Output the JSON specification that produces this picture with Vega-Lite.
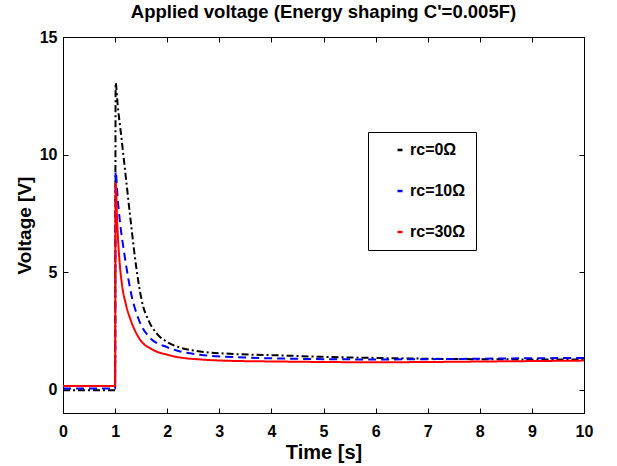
{
  "$schema": "https://vega.github.io/schema/vega-lite/v6.json",
  "width": 521,
  "height": 376,
  "autosize": {"type": "none"},
  "padding": {"left": 63, "top": 37, "right": 33, "bottom": 53},
  "background": "white",
  "title": {"text": "Applied voltage (Energy shaping C'=0.005F)", "font": "Liberation Sans", "fontSize": 18.5, "fontWeight": "bold", "color": "black", "offset": 8},
  "config": {
    "view": {"stroke": "black", "strokeWidth": 1},
    "axis": {"labelFont": "Liberation Sans", "labelFontSize": 16, "labelFontWeight": "bold", "labelColor": "black", "labelFlush": false, "titleFont": "Liberation Sans", "titleFontSize": 19, "titleFontWeight": "bold", "titleColor": "black", "domainColor": "black", "tickColor": "black", "tickSize": -5, "tickWidth": 1, "grid": false}
  },
  "data": {"values": [
    {"t": 0, "v": -0.03, "s": "rc=0Ω"},
    {"t": 1.0, "v": -0.03, "s": "rc=0Ω"},
    {"t": 1.01, "v": 13.05, "s": "rc=0Ω"},
    {"t": 1.05, "v": 12.1, "s": "rc=0Ω"},
    {"t": 1.13, "v": 10.55, "s": "rc=0Ω"},
    {"t": 1.22, "v": 8.75, "s": "rc=0Ω"},
    {"t": 1.3, "v": 7.15, "s": "rc=0Ω"},
    {"t": 1.4, "v": 5.3, "s": "rc=0Ω"},
    {"t": 1.51, "v": 3.8, "s": "rc=0Ω"},
    {"t": 1.65, "v": 2.9, "s": "rc=0Ω"},
    {"t": 1.8, "v": 2.38, "s": "rc=0Ω"},
    {"t": 2.0, "v": 2.02, "s": "rc=0Ω"},
    {"t": 2.25, "v": 1.78, "s": "rc=0Ω"},
    {"t": 2.63, "v": 1.62, "s": "rc=0Ω"},
    {"t": 3.2, "v": 1.52, "s": "rc=0Ω"},
    {"t": 4.17, "v": 1.45, "s": "rc=0Ω"},
    {"t": 5.0, "v": 1.39, "s": "rc=0Ω"},
    {"t": 6.08, "v": 1.34, "s": "rc=0Ω"},
    {"t": 7.0, "v": 1.31, "s": "rc=0Ω"},
    {"t": 8.0, "v": 1.29, "s": "rc=0Ω"},
    {"t": 9.0, "v": 1.28, "s": "rc=0Ω"},
    {"t": 10.0, "v": 1.28, "s": "rc=0Ω"},
    {"t": 0, "v": 0.04, "s": "rc=10Ω"},
    {"t": 1.0, "v": 0.04, "s": "rc=10Ω"},
    {"t": 1.01, "v": 9.28, "s": "rc=10Ω"},
    {"t": 1.05, "v": 8.1, "s": "rc=10Ω"},
    {"t": 1.09, "v": 7.2, "s": "rc=10Ω"},
    {"t": 1.19, "v": 5.59, "s": "rc=10Ω"},
    {"t": 1.32, "v": 3.96, "s": "rc=10Ω"},
    {"t": 1.45, "v": 3.0, "s": "rc=10Ω"},
    {"t": 1.67, "v": 2.2, "s": "rc=10Ω"},
    {"t": 2.0, "v": 1.8, "s": "rc=10Ω"},
    {"t": 2.25, "v": 1.62, "s": "rc=10Ω"},
    {"t": 2.63, "v": 1.48, "s": "rc=10Ω"},
    {"t": 3.5, "v": 1.36, "s": "rc=10Ω"},
    {"t": 4.17, "v": 1.32, "s": "rc=10Ω"},
    {"t": 5.0, "v": 1.29, "s": "rc=10Ω"},
    {"t": 6.08, "v": 1.28, "s": "rc=10Ω"},
    {"t": 7.0, "v": 1.29, "s": "rc=10Ω"},
    {"t": 8.0, "v": 1.31, "s": "rc=10Ω"},
    {"t": 9.0, "v": 1.33, "s": "rc=10Ω"},
    {"t": 10.0, "v": 1.34, "s": "rc=10Ω"},
    {"t": 0, "v": 0.15, "s": "rc=30Ω"},
    {"t": 1.0, "v": 0.15, "s": "rc=30Ω"},
    {"t": 1.01, "v": 8.78, "s": "rc=30Ω"},
    {"t": 1.04, "v": 7.1, "s": "rc=30Ω"},
    {"t": 1.08, "v": 5.6, "s": "rc=30Ω"},
    {"t": 1.13, "v": 4.5, "s": "rc=30Ω"},
    {"t": 1.21, "v": 3.6, "s": "rc=30Ω"},
    {"t": 1.3, "v": 2.95, "s": "rc=30Ω"},
    {"t": 1.48, "v": 2.12, "s": "rc=30Ω"},
    {"t": 1.7, "v": 1.72, "s": "rc=30Ω"},
    {"t": 2.0, "v": 1.48, "s": "rc=30Ω"},
    {"t": 2.25, "v": 1.36, "s": "rc=30Ω"},
    {"t": 2.63, "v": 1.28, "s": "rc=30Ω"},
    {"t": 3.2, "v": 1.22, "s": "rc=30Ω"},
    {"t": 4.17, "v": 1.19, "s": "rc=30Ω"},
    {"t": 5.0, "v": 1.17, "s": "rc=30Ω"},
    {"t": 6.0, "v": 1.16, "s": "rc=30Ω"},
    {"t": 7.0, "v": 1.17, "s": "rc=30Ω"},
    {"t": 8.0, "v": 1.19, "s": "rc=30Ω"},
    {"t": 9.0, "v": 1.21, "s": "rc=30Ω"},
    {"t": 10.0, "v": 1.23, "s": "rc=30Ω"}
  ]},
  "layer": [
    {
      "mark": {"type": "line", "strokeWidth": 2, "clip": true, "interpolate": "monotone"},
      "encoding": {
        "x": {"field": "t", "type": "quantitative", "scale": {"domain": [0, 10], "nice": false}, "axis": {"title": "Time [s]", "titleFontSize": 20, "values": [0,1,2,3,4,5,6,7,8,9,10], "labelPadding": 15, "titlePadding": 3, "orient": "bottom"}},
        "y": {"field": "v", "type": "quantitative", "scale": {"domain": [-1, 15], "nice": false, "zero": false}, "axis": {"title": "Voltage [V]", "values": [0, 5, 10, 15], "labelPadding": 11, "titlePadding": 5, "orient": "left"}},
        "color": {"field": "s", "type": "nominal", "scale": {"domain": ["rc=0Ω", "rc=10Ω", "rc=30Ω"], "range": ["#000000", "#0000ff", "#ff0000"]},
          "legend": {"title": null, "orient": "none", "legendX": 305, "legendY": 95, "direction": "vertical", "fillColor": "white", "strokeColor": "black", "padding": 10, "symbolOffset": 14, "symbolType": "stroke", "symbolSize": 25, "symbolStrokeWidth": 2.5, "labelFont": "Liberation Sans", "labelFontSize": 16, "labelFontWeight": "bold", "labelColor": "black", "rowPadding": 25, "labelOffset": 2}},
        "strokeDash": {"field": "s", "type": "nominal", "scale": {"domain": ["rc=0Ω", "rc=10Ω", "rc=30Ω"], "range": [[7, 3, 2, 3], [8, 5], [1, 0]]}, "legend": null}
      }
    },
    {
      "mark": {"type": "line", "opacity": 0},
      "encoding": {
        "x": {"field": "t", "type": "quantitative", "axis": {"orient": "top", "labels": false, "title": null, "values": [0,1,2,3,4,5,6,7,8,9,10]}},
        "y": {"field": "v", "type": "quantitative", "axis": {"orient": "right", "labels": false, "title": null, "values": [0, 5, 10, 15]}}
      }
    }
  ],
  "resolve": {"axis": {"x": "independent", "y": "independent"}}
}
